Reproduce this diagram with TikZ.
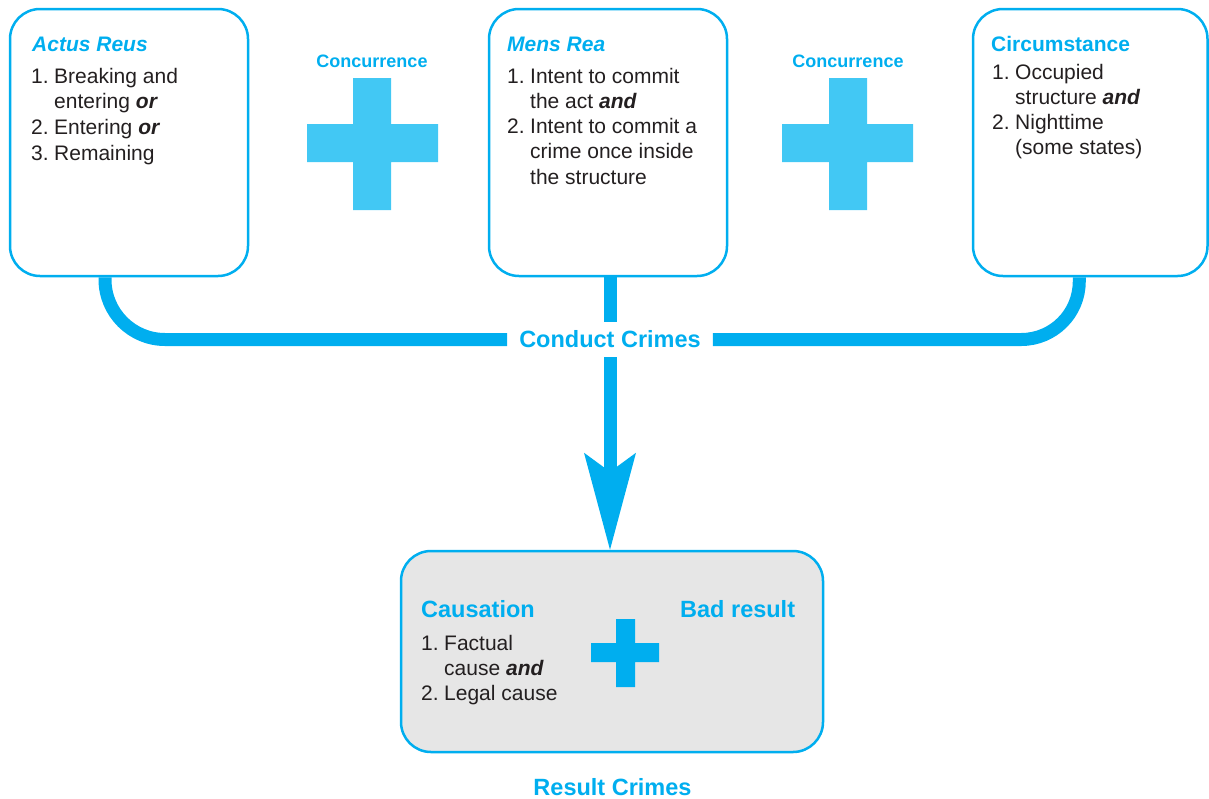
\documentclass[tikz,border=0pt]{standalone}
\usepackage{fontspec}
\setmainfont{Liberation Sans}
\usetikzlibrary{arrows.meta}

\definecolor{brand}{HTML}{00AEEF}
\definecolor{pluscol}{HTML}{42C8F4}
\definecolor{ink}{HTML}{231F20}
\definecolor{panel}{HTML}{E6E6E6}

% numbered list helpers
\newcommand{\itm}[2]{\makebox[23pt][l]{#1}#2}
\newcommand{\cont}[1]{\hspace*{23pt}#1}
\newcommand{\kw}[1]{\textbf{\textit{#1}}}

\begin{document}
\begin{tikzpicture}[x=1pt,y=-1pt,
  card/.style={draw=brand, line width=2.5pt, rounded corners=30pt, inner sep=0pt},
  head/.style={inner sep=0pt, anchor=base west, text=brand,
    font=\fontsize{21}{25}\selectfont\bfseries\itshape},
  headup/.style={inner sep=0pt, anchor=base west, text=brand,
    font=\fontsize{21}{25}\selectfont\bfseries},
  bighead/.style={inner sep=0pt, anchor=base west, text=brand,
    font=\fontsize{23.5}{28}\selectfont\bfseries},
  listtext/.style={inner sep=0pt, anchor=base west, text=ink,
    font=\fontsize{21}{#1}\selectfont},
  label/.style={inner sep=0pt, anchor=base, text=brand,
    font=\fontsize{18}{22}\selectfont\bfseries},
  conn/.style={draw=brand, line width=13pt},
]
\useasboundingbox (0,0) rectangle (1209,798);

% element cards
\node[card, minimum width=238pt, minimum height=267pt] (actus) at (129,142.5) {};
\node[card, minimum width=238pt, minimum height=267pt] (mens) at (608,142.5) {};
\node[card, minimum width=234.5pt, minimum height=267pt] (circ) at (1090.25,142.5) {};
\node[card, fill=panel, minimum width=422pt, minimum height=201pt] (result) at (612,651.5) {};

% card contents
\node[head] (actush) at (32,51) {Actus Reus};
\node[listtext=25.7] (actusl) at (31,83) {\begin{tabular}[t]{@{}l@{}}
  \itm{1.}{Breaking and}\\ \cont{entering \kw{or}}\\ \itm{2.}{Entering \kw{or}}\\ \itm{3.}{Remaining}
\end{tabular}};

\node[head] (mensh) at (507,51) {Mens Rea};
\node[listtext=25.3] (mensl) at (507,83) {\begin{tabular}[t]{@{}l@{}}
  \itm{1.}{Intent to commit}\\ \cont{the act \kw{and}}\\ \itm{2.}{Intent to commit a}\\
  \cont{crime once inside}\\ \cont{the structure}
\end{tabular}};

\node[headup] (circh) at (991,51) {Circumstance};
\node[listtext=25.3] (circl) at (992,79) {\begin{tabular}[t]{@{}l@{}}
  \itm{1.}{Occupied}\\ \cont{structure \kw{and}}\\ \itm{2.}{Nighttime}\\ \cont{(some states)}
\end{tabular}};

\node[bighead] (causeh) at (421,617) {Causation};
\node[listtext=25] (causel) at (421,650) {\begin{tabular}[t]{@{}l@{}}
  \itm{1.}{Factual}\\ \cont{cause \kw{and}}\\ \itm{2.}{Legal cause}
\end{tabular}};
\node[bighead] (badh) at (680,617) {Bad result};

% concurrence signs
\node[label] (conc1) at (372,67) {Concurrence};
\node[label] (conc2) at (848,67) {Concurrence};
\fill[pluscol] (353,78) rectangle (391,210) (307,124) rectangle (438,162);
\fill[pluscol] (829,78) rectangle (867,210) (782,124) rectangle (913,162);
\fill[brand] (616,619) rectangle (635,687) (591,643) rectangle (659,662);

% conduct crimes junction
\node[inner xsep=12pt, inner ysep=9pt, text=brand,
  font=\fontsize{23.5}{28}\selectfont\bfseries] (conduct) at (610,339.5) {Conduct Crimes};
\draw[conn, rounded corners=60pt] ([xshift=-24pt]actus.south) |- (conduct.west);
\draw[conn, rounded corners=58pt] (conduct.east) -| ([xshift=-11pt]circ.south);
\draw[conn] (conduct.north |- mens.south) -- (conduct.north);
\draw[conn, -{Stealth[length=97pt,width=52pt,inset=19pt,line width=0pt]}]
  (conduct.south) -- (conduct.south |- result.north);

\node[inner sep=0pt, anchor=base, text=brand,
  font=\fontsize{23.5}{28}\selectfont\bfseries] (resultlbl) at (612.5,795) {Result Crimes};
\end{tikzpicture}
\end{document}
